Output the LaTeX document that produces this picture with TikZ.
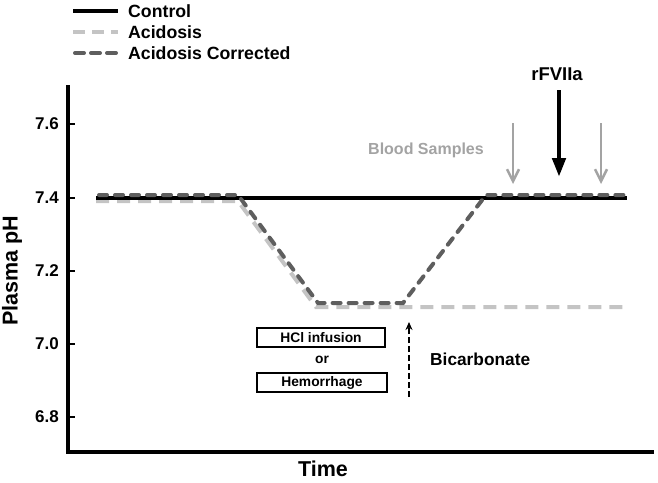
\documentclass[tikz,border=0pt]{standalone}
\usepackage{fontspec}
\setmainfont{Liberation Sans}
\usetikzlibrary{arrows.meta}
\definecolor{lightg}{HTML}{C4C4C4}
\definecolor{darkg}{HTML}{5E5E5E}
\definecolor{sampleg}{HTML}{A3A3A3}
\begin{document}
\begin{tikzpicture}[x=1pt,y=-1pt,
  fs/.style={font=\bfseries\fontsize{#1}{#1}\selectfont, inner sep=0pt},
  axisline/.style={line width=3.5pt, line cap=rect},
  ctrlline/.style={line width=3.5pt, black},
  acidline/.style={line width=4pt, lightg, dash pattern=on 13pt off 8pt},
  corrline/.style={line width=4pt, darkg, line cap=round, dash pattern=on 8pt off 8pt},
  tick/.style={line width=2pt},
  ticklabel/.style={fs=17, anchor=east},
  samplearrow/.style={line width=2.5pt, sampleg, -{Straight Barb[length=12pt,width=12pt,line width=2.5pt]}},
  drugarrow/.style={line width=4.5pt, black, -{Triangle[length=19pt,width=13pt]}},
  bicarrow/.style={line width=2.5pt, black, dash pattern=on 6pt off 3pt, -{Stealth[length=8pt,width=7pt]}},
  infobox/.style={draw, line width=2.8pt, fs=13.8, minimum width=128pt, minimum height=19pt}
]
\useasboundingbox (0,0) rectangle (658,482);

% legend
\coordinate (lc1) at (73,11);  \coordinate (lc2) at (118,11);
\coordinate (la1) at (73,32);  \coordinate (la2) at (118,32);
\coordinate (lr1) at (73,53);  \coordinate (lr2) at (118,53);
\draw[ctrlline] (lc1) -- (lc2);
\draw[acidline, dash pattern=on 12pt off 7pt] (la1) -- (la2);
\draw[corrline, dash pattern=on 9pt off 7pt] ([xshift=2pt]lr1) -- ([xshift=-2pt]lr2);
\node[fs=17.7, anchor=west] (legc) at (128,11) {Control};
\node[fs=17.7, anchor=west] (lega) at (128,32) {Acidosis};
\node[fs=17.7, anchor=west] (legr) at (128,53) {Acidosis Corrected};

% axes
\coordinate (ytop) at (68,87);
\coordinate (origin) at (68,452);
\coordinate (xend) at (652,452);
\draw[axisline] (ytop) -- (origin) -- (xend);

% ticks
\foreach \v/\y in {7.6/124, 7.4/198, 7.2/271, 7.0/344, 6.8/417}{
  \coordinate (t\y) at (68,\y);
  \draw[tick] (t\y) -- ++(7,0);
  \node[ticklabel] (tl\y) at (59,\y) {\v};
}
\node[fs=21.5, rotate=90] (ylab) at (12,271) {Plasma pH};
\node[fs=21.5] (xlab) at (323,469) {Time};

% data lines
\coordinate (a1) at (96,201); \coordinate (a2) at (238,201);
\coordinate (a3) at (316,307); \coordinate (a4) at (628,307);
\draw[acidline] (a1) -- (a2) -- (a3) -- (a4);

\coordinate (c1) at (96,198); \coordinate (c2) at (627,198);
\draw[ctrlline] (c1) -- (c2);

\coordinate (r1) at (99,195); \coordinate (r2) at (238,195);
\coordinate (r3) at (318,303); \coordinate (r4) at (403,303);
\coordinate (r5) at (486,195); \coordinate (r6) at (625,195);
\draw[corrline] (r1) -- (r2) -- (r3) -- (r4) -- (r5) -- (r6);

% blood samples and rFVIIa
\coordinate (s1a) at (513,123); \coordinate (s1b) at (513,184);
\coordinate (s2a) at (601,123); \coordinate (s2b) at (601,184);
\draw[samplearrow] (s1a) -- (s1b);
\draw[samplearrow] (s2a) -- (s2b);
\node[fs=16, text=sampleg] (blood) at (426,150) {Blood Samples};

\coordinate (fa) at (559,90); \coordinate (fb) at (559,177);
\draw[drugarrow] (fa) -- (fb);
\node[fs=18.5] (rf) at (557,74) {rFVIIa};

% interventions
\node[infobox] (hcl) at (321,337.5) {HCl infusion};
\node[fs=13.8] (or) at (322,360) {or};
\node[infobox, minimum width=130pt] (hem) at (322,382.5) {Hemorrhage};

\coordinate (ba) at (409,397); \coordinate (bb) at (409,322);
\draw[bicarrow] (ba) -- (bb);
\node[fs=17.3, anchor=west] (bic) at (430,359) {Bicarbonate};
\end{tikzpicture}
\end{document}
